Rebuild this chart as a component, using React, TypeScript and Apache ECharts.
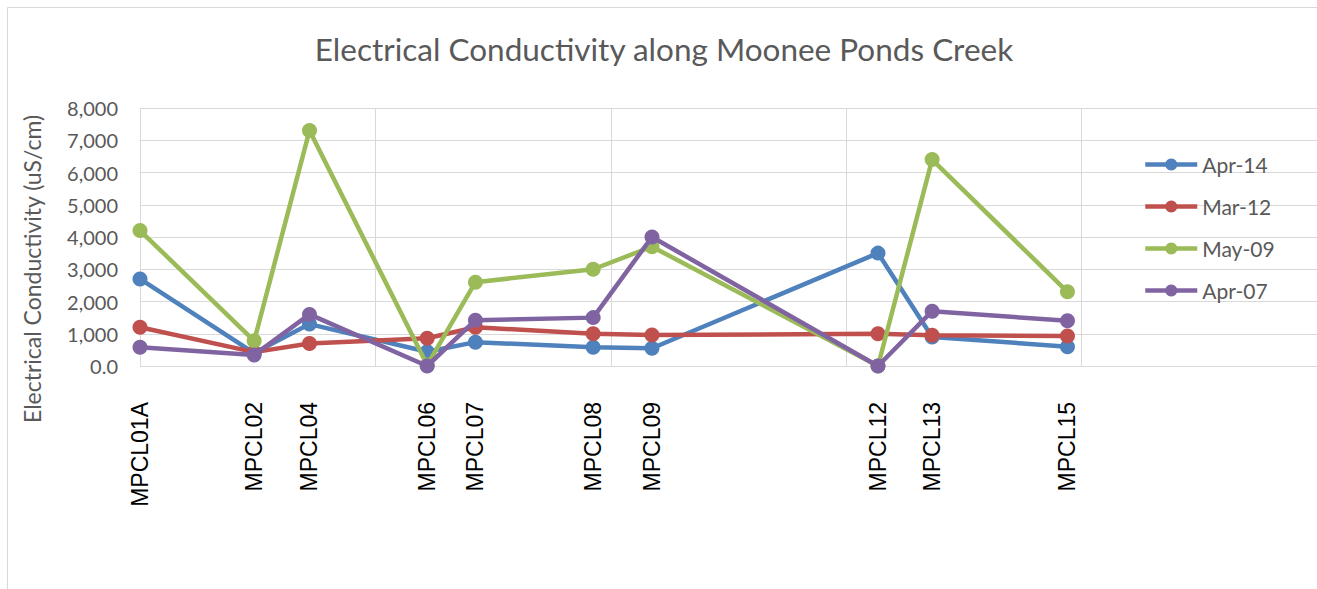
import React, { useEffect, useRef } from 'react';
import * as echarts from 'echarts';

const stations = ['MPCL01A', 'MPCL02', 'MPCL04', 'MPCL06', 'MPCL07', 'MPCL08', 'MPCL09', 'MPCL12', 'MPCL13', 'MPCL15'];
const distanceKm = [0, 0.97, 1.44, 2.44, 2.85, 3.85, 4.35, 6.27, 6.73, 7.88];
const seriesNames = ['Apr-14', 'Mar-12', 'May-09', 'Apr-07'];
const apr14 = [2700, 400, 1300, 440, 740, 580, 550, 3500, 900, 600];
const mar12 = [1200, 430, 700, 860, 1200, 1000, 960, 1000, 950, 930];
const may09 = [4200, 780, 7300, 30, 2600, 3000, 3700, 0, 6400, 2300];
const apr07 = [580, 340, 1600, 0, 1420, 1500, 4000, 0, 1700, 1400];
const seriesValues = [apr14, mar12, may09, apr07];
const colors = ['#4F81BD', '#C0504D', '#9BBB59', '#8064A2'];

const titleText = 'Electrical Conductivity along Moonee Ponds Creek';
const yAxisTitle = 'Electrical Conductivity (uS/cm)';

export default function App() {
  const ref = useRef<HTMLDivElement>(null);
  useEffect(() => {
    if (!ref.current) return;
    const chart = echarts.init(ref.current, null, { renderer: 'svg' });
    const grayFont = 'Lato, "Open Sans", sans-serif';
    chart.setOption({
      animation: false,
      backgroundColor: '#ffffff',
      color: colors,
      graphic: [
        {
          type: 'rect',
          shape: { x: 7.5, y: 7.5, width: 1400, height: 700 },
          style: { fill: 'none', stroke: '#D9D9D9', lineWidth: 1 },
          silent: true,
        },
        {
          type: 'text',
          x: 664,
          y: 49,
          style: {
            text: titleText,
            fill: '#595959',
            fontSize: 31.5,
            fontFamily: grayFont,
            textAlign: 'center',
            textVerticalAlign: 'middle',
          },
        },
        {
          type: 'text',
          x: 32,
          y: 269,
          rotation: Math.PI / 2,
          style: {
            text: yAxisTitle,
            fill: '#595959',
            fontSize: 23,
            fontFamily: grayFont,
            textAlign: 'center',
            textVerticalAlign: 'middle',
          },
        },
      ],
      legend: {
        orient: 'vertical',
        left: 1138,
        top: 149,
        itemWidth: 52,
        itemHeight: 15,
        itemGap: 21,
        data: seriesNames,
        lineStyle: { width: 4.5 },
        textStyle: { color: '#595959', fontSize: 21, fontFamily: grayFont, lineHeight: 21 },
      },
      grid: { left: 140, top: 108, right: 0, height: 258, containLabel: false },
      xAxis: [
        {
          type: 'value',
          min: 0,
          max: 10,
          interval: 2,
          axisLine: { show: false },
          axisTick: { show: false },
          axisLabel: { show: false },
          splitLine: { show: true, lineStyle: { color: '#D9D9D9', width: 1 } },
        },
        {
          type: 'value',
          min: 0,
          max: 10,
          position: 'bottom',
          axisLine: { show: false },
          axisTick: { show: false },
          splitLine: { show: false },
          axisLabel: {
            customValues: distanceKm,
            rotate: 90,
            margin: 36,
            color: '#000000',
            fontSize: 23,
            fontFamily: '"Liberation Sans", Arial, sans-serif',
            formatter: (v: number) => {
              const i = distanceKm.findIndex((d) => Math.abs(d - v) < 1e-6);
              return i >= 0 ? stations[i] : '';
            },
          },
        },
      ],
      yAxis: {
        type: 'value',
        min: 0,
        max: 8000,
        interval: 1000,
        axisLine: { show: false },
        axisTick: { show: false },
        splitLine: { show: true, lineStyle: { color: '#D9D9D9', width: 1 } },
        axisLabel: {
          margin: 22,
          color: '#595959',
          fontSize: 20,
          fontFamily: grayFont,
          formatter: (v: number) => (v === 0 ? '0.0' : v.toLocaleString('en-US')),
        },
      },
      series: seriesNames.map((name, si) => ({
        name,
        type: 'line',
        xAxisIndex: 0,
        data: distanceKm.map((d, i) => [d, seriesValues[si][i]]),
        symbol: 'circle',
        symbolSize: 15,
        lineStyle: { width: 4.5, color: colors[si] },
        itemStyle: { color: colors[si] },
        z: 2 + si,
      })),
    });
    return () => chart.dispose();
  }, []);
  return (
    <div
      ref={ref}
      style={{ position: 'absolute', left: 0, top: 0, width: 1317, height: 589 }}
    />
  );
}
